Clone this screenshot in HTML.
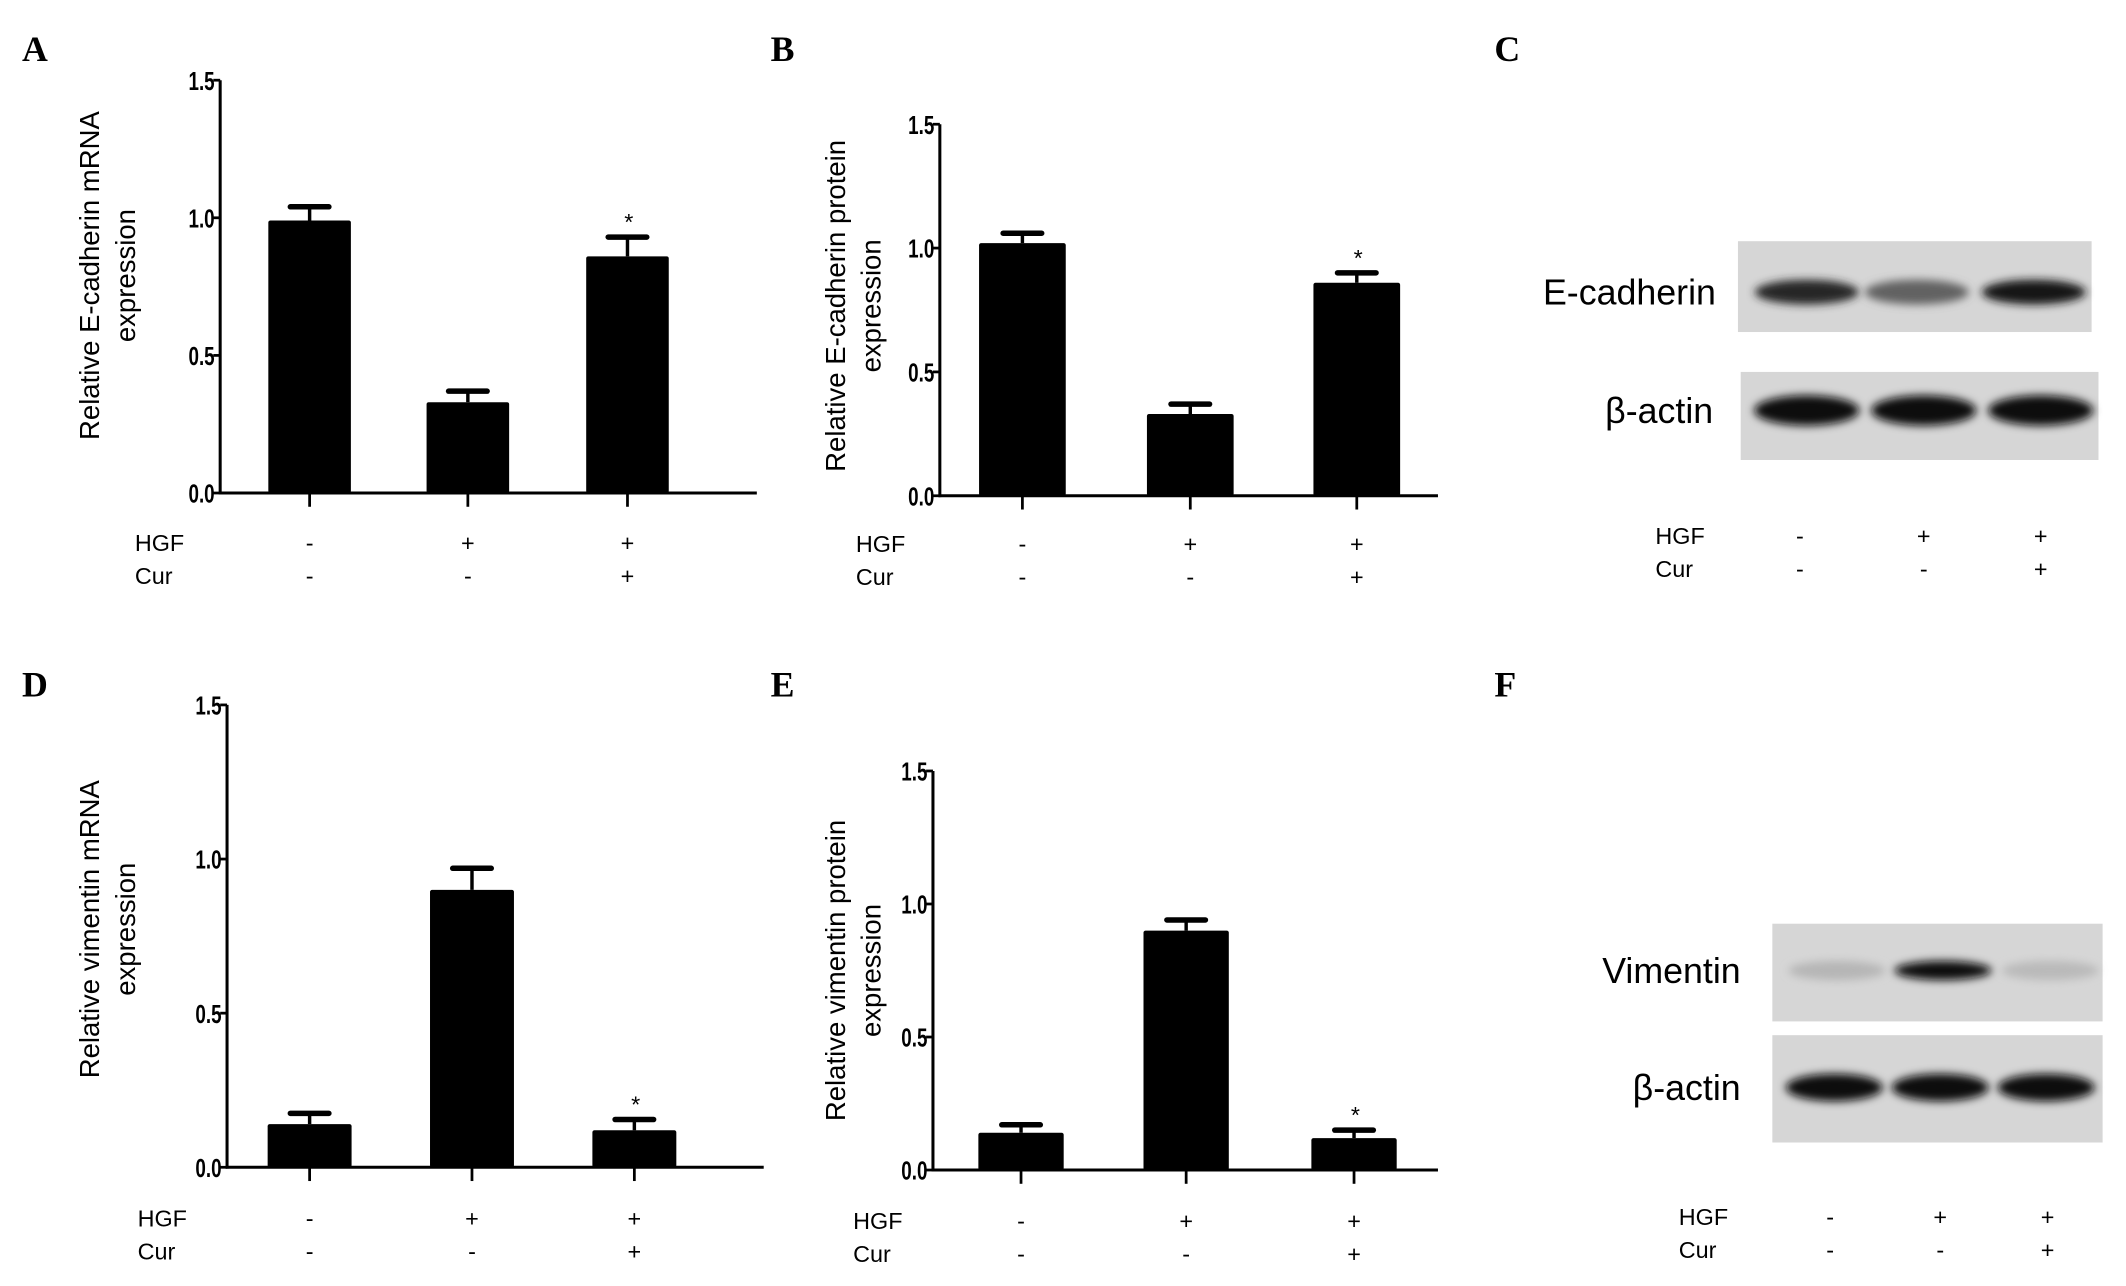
<!DOCTYPE html>
<html><head><meta charset="utf-8"><style>
html,body{margin:0;padding:0;background:#fff;}
svg{display:block;}
text{font-family:"Liberation Sans",sans-serif;fill:#000;}
.tick{font-weight:bold;font-size:19px;}
.lbl{font-family:"Liberation Serif",serif;font-weight:bold;font-size:26px;}
</style></head><body>
<svg id="fig" width="2126" height="1286" viewBox="0 0 1545 934" xmlns="http://www.w3.org/2000/svg">
<defs><filter id="blur" x="-20%" y="-50%" width="140%" height="200%"><feGaussianBlur stdDeviation="3"/></filter></defs>
</svg>
<script>
// ---- data ----
const groups = ["Control","HGF","HGF+Cur"];
const hgfRow = ["-","+","+"];
const curRow = ["-","-","+"];
const yTicks = [0,0.5,1.0,1.5];
const yTickLabels = ["0.0","0.5","1.0","1.5"];
const ecadMrna = [0.99,0.33,0.86];
const ecadMrnaErr = [0.05,0.04,0.07];
const ecadProt = [1.02,0.33,0.86];
const ecadProtErr = [0.04,0.04,0.04];
const vimMrna = [0.14,0.90,0.12];
const vimMrnaErr = [0.035,0.07,0.035];
const vimProt = [0.14,0.90,0.12];
const vimProtErr = [0.03,0.04,0.03];
const sig = [false,false,true];

const NS="http://www.w3.org/2000/svg";
const svg=document.getElementById('fig');
function mk(tag,attrs,parent,txt){const e=document.createElementNS(NS,tag);for(const k in attrs)e.setAttribute(k,attrs[k]);if(txt!==undefined)e.textContent=txt;(parent||svg).appendChild(e);return e;}

function panel(cfg){
  const g=mk('g',{});
  
  
  const y=v=>cfg.y0-(v/1.5)*(cfg.y0-cfg.y15);
  const x=i=>cfg.cx[i];
  const L=mk('text',{x:cfg.lx,y:cfg.ly,class:'lbl'},g,cfg.letter);
  
  
  const ax=mk('line',{x1:cfg.ax,y1:y(1.5),x2:cfg.ax,y2:cfg.y0+1,stroke:'#000','stroke-width':2.2},g);
  
  
  const xa=mk('line',{x1:cfg.ax-1,y1:cfg.y0,x2:cfg.axEnd,y2:cfg.y0,stroke:'#000','stroke-width':2.2},g);
  
  
  yTicks.forEach((t,i)=>{
    mk('line',{x1:cfg.ax-5,y1:y(t),x2:cfg.ax,y2:y(t),stroke:'#000','stroke-width':2},g);
    const tl=mk('text',{x:cfg.ax-4,y:y(t)+7,class:'tick','text-anchor':'end',transform:`translate(${cfg.ax-4},0) scale(0.72,1) translate(${-(cfg.ax-4)},0)`},g,yTickLabels[i]);
    
    
  });
  const t=mk('text',{transform:`translate(${cfg.tx},${cfg.ty}) rotate(-90)`,'font-size':20,'text-anchor':'middle'},g);
  
  
  mk('tspan',{x:0,y:0},t,cfg.title1);
  mk('tspan',{x:0,y:26},t,'expression');
  cfg.vals.forEach((v,i)=>{
    const bw=cfg.bw, cx=x(i);
    const top=y(v), et=y(v+cfg.errs[i]);
    const eb=mk('line',{x1:cx,y1:et,x2:cx,y2:top,stroke:'#000','stroke-width':2.5},g);
    
    
    mk('line',{x1:cx-14,y1:et,x2:cx+14,y2:et,stroke:'#000','stroke-width':4,'stroke-linecap':'round'},g);
    const b=mk('rect',{x:cx-bw/2,y:top,width:bw,height:cfg.y0-top,fill:'#000',rx:1.5},g);
    
    
    mk('line',{x1:cx,y1:cfg.y0,x2:cx,y2:cfg.y0+10,stroke:'#000','stroke-width':2},g);
    if(sig[i]){const s=mk('text',{x:cx+1,y:et-5,'font-size':17,'text-anchor':'middle'},g,'*');
      
      }
  });
  rows(g,cfg.hx,cfg.hy,cfg.cx,17);
}
function rows(g,hx,hy,cx,fs){
  const h=mk('text',{x:hx,y:hy,'font-size':fs},g,'HGF');
  
  
  const c=mk('text',{x:hx,y:hy+24,'font-size':fs},g,'Cur');
  
  
  cx.forEach((xx,i)=>{
    const a=mk('text',{x:xx,y:hy,'font-size':fs,'text-anchor':'middle'},g,hgfRow[i]);
    
    
    const b=mk('text',{x:xx,y:hy+24,'font-size':fs,'text-anchor':'middle'},g,curRow[i]);
    
    
  });
}
panel({name:'panel-a',letter:'A',lx:16,ly:44,ax:160,axEnd:550,y0:358,y15:58,cx:[225,340,456],bw:60,vals:ecadMrna,errs:ecadMrnaErr,tx:72,ty:200,title1:'Relative E-cadherin mRNA',hx:98,hy:400});
panel({name:'panel-b',letter:'B',lx:560,ly:44,ax:683,axEnd:1045,y0:360,y15:90,cx:[743,865,986],bw:63,vals:ecadProt,errs:ecadProtErr,tx:614,ty:222,title1:'Relative E-cadherin protein',hx:622,hy:401});
panel({name:'panel-d',letter:'D',lx:16,ly:506,ax:165,axEnd:555,y0:848,y15:512,cx:[225,343,461],bw:61,vals:vimMrna,errs:vimMrnaErr,tx:72,ty:675,title1:'Relative  vimentin mRNA',hx:100,hy:891});
panel({name:'panel-e',letter:'E',lx:560,ly:506,ax:678,axEnd:1045,y0:850,y15:560,cx:[742,862,984],bw:62,vals:vimProt,errs:vimProtErr,tx:614,ty:705,title1:'Relative vimentin protein',hx:620,hy:893});

// blots: band intensity (0..1)
const ecadBand=[0.85,0.55,0.95];
const actinBand1=[1,1,1];
const vimBand=[0.12,1,0.1];
const actinBand2=[1,1,1];
function blot(name,label,x0,y0,w,h,lanes,ints,bandY,bandH,lx){
  const g=mk('g',{});
  
  
  mk('rect',{x:x0,y:y0,width:w,height:h,fill:'#d6d6d6'},g);
  lanes.forEach((cx,i)=>{
    const v=Math.round(205-195*ints[i]);
    const e=mk('ellipse',{cx:cx,cy:bandY,rx:w/6.8,ry:bandH,fill:`rgb(${v},${v},${v})`,filter:'url(#blur)'},g);
    
    
  });
  const t=mk('text',{x:lx,y:bandY+9,'font-size':26,'text-anchor':'end'},g,label);
  
  
}
const cLab=mk('text',{x:1086,y:44,class:'lbl'},svg,'C');


const fLab=mk('text',{x:1086,y:506,class:'lbl'},svg,'F');


blot('ecadherin-blot','E-cadherin',1263,175,257,66,[1313,1393,1478],ecadBand,212,9,1247);
blot('actin-blot-c','β-actin',1265,270,260,64,[1313,1398,1483],actinBand1,298,11,1245);
blot('vimentin-blot','Vimentin',1288,671,240,71,[1335,1412,1490],vimBand,705,7,1265);
blot('actin-blot-f','β-actin',1288,752,240,78,[1333,1410,1487],actinBand2,790,10,1265);
const gc=mk('g',{});
rows(gc,1203,395,[1308,1398,1483],17);
const gf=mk('g',{});
rows(gf,1220,890,[1330,1410,1488],17);
</script>
</body></html>
